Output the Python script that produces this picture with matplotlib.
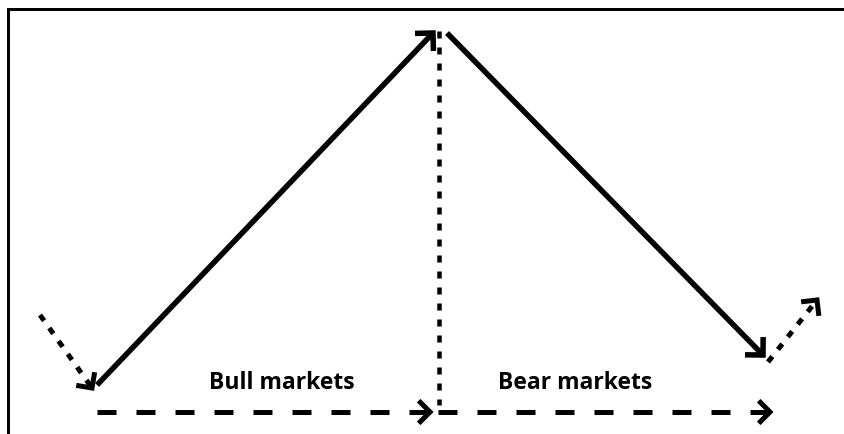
import numpy as np
import matplotlib
matplotlib.use("Agg")
import matplotlib.pyplot as plt

plt.rcParams['lines.scale_dashes'] = False

# Diagram segments (pixel space of the 845x434 picture)
bull_line = [(97, 385), (433, 33)]          # solid, arrow at end
bear_line = [(447, 33), (763, 355)]         # solid, arrow at end
lead_in = [(40, 315), (92, 388)]            # dotted, arrow at end
lead_out = [(768, 362), (817, 300)]         # dotted, arrow at end
peak_divider = [(439, 31), (439, 405)]      # dotted, no arrow
bull_span = [(97, 412), (430, 412)]         # dashed, arrow at end
bear_span = [(438, 412), (770, 412)]        # dashed, arrow at end

labels = ["Bull markets", "Bear markets"]
label_pos = [(282, 383), (575, 383)]

W, H, DPI = 845, 434, 100
fig = plt.figure(figsize=(W / DPI, H / DPI), dpi=DPI)
ax = fig.add_axes([0, 0, 1, 1])
ax.set_xlim(0, W)
ax.set_ylim(H, 0)
ax.axis('off')

PX = 72.0 / DPI  # points per pixel


def chevron(seg, length=18, lw_px=5):
    (x0, y0), (x1, y1) = seg
    d = np.array([x0 - x1, y0 - y1], dtype=float)
    d /= np.hypot(*d)
    out = []
    for ang in (np.pi / 4, -np.pi / 4):
        c, s = np.cos(ang), np.sin(ang)
        r = np.array([c * d[0] - s * d[1], s * d[0] + c * d[1]])
        out.append((x1 + r[0] * length, y1 + r[1] * length))
    xs = [out[0][0], x1, out[1][0]]
    ys = [out[0][1], y1, out[1][1]]
    ax.plot(xs, ys, color='black', lw=lw_px * PX, solid_joinstyle='miter',
            solid_capstyle='butt')


def seg_line(seg, style, lw_px):
    (x0, y0), (x1, y1) = seg
    ax.plot([x0, x1], [y0, y1], color='black', lw=lw_px * PX,
            linestyle=style, solid_capstyle='butt', dash_capstyle='butt')


dotted = (0, (7 * PX, 9 * PX))
dashed = (0, (19 * PX, 20 * PX))

for seg in (bull_line, bear_line):
    seg_line(seg, '-', 5.5)
    chevron(seg, lw_px=5.5)

for seg in (lead_in, lead_out):
    seg_line(seg, dotted, 5)
    chevron(seg, length=16)

seg_line(peak_divider, dotted, 4.5)

for seg in (bull_span, bear_span):
    seg_line(seg, dashed, 5)
    chevron(seg, length=16)

for txt, (x, y) in zip(labels, label_pos):
    ax.text(x, y, txt, ha='center', va='center', fontsize=16.5,
            fontweight='bold', family='Open Sans', color='black')

# frame: top and left edges only
ax.plot([8.5, W], [9, 9], color='black', lw=3 * PX, solid_capstyle='projecting')
ax.plot([8.5, 8.5], [9, H], color='black', lw=3 * PX, solid_capstyle='projecting')

fig.savefig('out.png', dpi=DPI)
